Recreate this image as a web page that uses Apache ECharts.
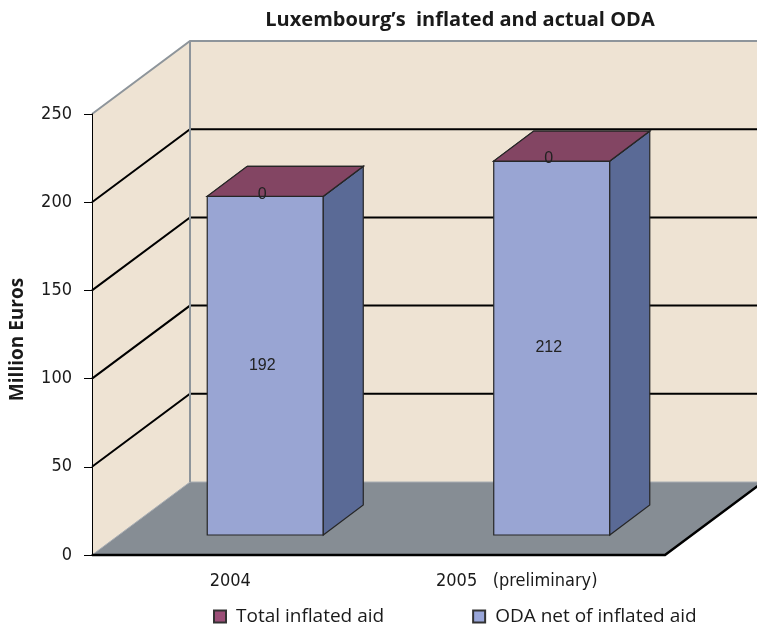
<!DOCTYPE html>
<html>
<head>
<meta charset="utf-8">
<script src="https://cdn.jsdelivr.net/npm/echarts@6/dist/echarts.min.js"></script>
<style>
html, body { margin: 0; padding: 0; background: #fff; }
#chart { width: 757px; height: 624px; }
</style>
</head>
<body>
<div id="chart"></div>
<script>
// data
var categories = ['2004', '2005   (preliminary)'];
var odaNet = [192, 212];
var inflatedAid = [0, 0];
var yMin = 0, yMax = 250, yStep = 50;

// 3d look
var DX = 98, DY = -73;        // depth of the box
var BFX = 30, BFY = -20;      // bar front face offset
var BDX = 40, BDY = -30;      // bar depth
var WALL = '#eee3d3', FLOOR = '#868d94', EDGE = '#8e959b';
var narrow = "'Liberation Sans Narrow', 'DejaVu Sans Condensed', sans-serif";

var chart = echarts.init(document.getElementById('chart'));

function renderWalls(params, api) {
    var cs = params.coordSys;
    var L = cs.x, R = cs.x + cs.width, T = cs.y, B = cs.y + cs.height;
    var W = api.getWidth() + 10;
    var kids = [];
    kids.push({ type: 'rect', shape: { x: L + DX, y: T + DY, width: W - L - DX, height: B - T }, style: { fill: WALL } });
    kids.push({ type: 'polygon', shape: { points: [[L, B], [L, T], [L + DX, T + DY], [L + DX, B + DY]] }, style: { fill: WALL } });
    kids.push({ type: 'polygon', shape: { points: [[L, B], [R, B], [R + DX, B + DY], [L + DX, B + DY]] }, style: { fill: FLOOR, stroke: '#a9aeb3', lineWidth: 1 } });
    for (var v = yMin + yStep; v < yMax; v += yStep) {
        var y = api.coord([0, v])[1];
        kids.push({ type: 'polyline', shape: { points: [[L, y], [L + DX, y + DY], [W, y + DY]] }, style: { stroke: '#000', lineWidth: 2, fill: null } });
    }
    kids.push({ type: 'polyline', shape: { points: [[L, T], [L + DX, T + DY], [W, T + DY]] }, style: { stroke: EDGE, lineWidth: 2, fill: null } });
    kids.push({ type: 'line', shape: { x1: L + DX, y1: T + DY, x2: L + DX, y2: B + DY }, style: { stroke: EDGE, lineWidth: 2 } });
    kids.push({ type: 'polyline', shape: { points: [[L, B], [R, B], [R + DX, B + DY]] }, style: { stroke: '#000', lineWidth: 2.5, fill: null } });
    return { type: 'group', children: kids };
}

function makeBarRenderer(front, side, top, labelAtTop) {
    return function (params, api) {
        var cat = api.value(0), lo = api.value(1), hi = api.value(2);
        var pLo = api.coord([cat, lo]), pHi = api.coord([cat, hi]);
        var bw = api.size([1, 0])[0] * 0.405;
        var x0 = pLo[0] - bw / 2 + BFX, x1 = x0 + bw;
        var yb = pLo[1] + BFY, yt = pHi[1] + BFY;
        var line = { stroke: '#262626', lineWidth: 1.2 };
        var kids = [];
        if (yb - yt > 0.5) {
            kids.push({ type: 'rect', shape: { x: x0, y: yt, width: bw, height: yb - yt }, style: Object.assign({ fill: front }, line) });
            kids.push({ type: 'polygon', shape: { points: [[x1, yb], [x1, yt], [x1 + BDX, yt + BDY], [x1 + BDX, yb + BDY]] }, style: Object.assign({ fill: side }, line) });
        }
        kids.push({ type: 'polygon', shape: { points: [[x0, yt], [x1, yt], [x1 + BDX, yt + BDY], [x0 + BDX, yt + BDY]] }, style: Object.assign({ fill: top }, line) });
        var ly = labelAtTop ? yt - 2 : (yt + yb) / 2;
        kids.push({ type: 'text', x: (x0 + x1) / 2 - 3, y: ly, style: { text: String(hi - lo), fill: '#222', font: '16px "Liberation Sans", Arial, sans-serif', align: 'center', verticalAlign: 'middle' } });
        return { type: 'group', children: kids };
    };
}

var odaData = categories.map(function (c, i) { return [i, 0, odaNet[i]]; });
var inflData = categories.map(function (c, i) { return [i, odaNet[i], odaNet[i] + inflatedAid[i]]; });

chart.setOption({
    animation: false,
    title: {
        text: 'Luxembourg\u2019s  inflated and actual ODA',
        left: 455, textAlign: 'center', top: 5,
        textStyle: { fontFamily: 'Open Sans', fontWeight: 'bold', fontSize: 20, color: '#1a1a1a' }
    },
    legend: {
        top: 602, left: 208, itemGap: 88, itemWidth: 12, itemHeight: 12, icon: 'rect',
        data: ['Total inflated aid', 'ODA net of inflated aid'],
        textStyle: { fontFamily: 'Open Sans', fontSize: 19, color: '#1a1a1a', padding: [0, 0, 0, 5] }
    },
    grid: { left: 92, right: 92, top: 114, bottom: 69, outerBoundsMode: 'none', containLabel: false },
    xAxis: {
        type: 'category', data: categories, z: 10,
        axisLine: { lineStyle: { color: '#000', width: 1.5 } },
        axisTick: { length: 8, lineStyle: { color: '#000' } },
        axisLabel: { margin: 17, fontFamily: narrow, fontSize: 18, color: '#1a1a1a', padding: [0, 10, 0, 0] },
        splitLine: { show: false }
    },
    yAxis: {
        type: 'value', min: yMin, max: yMax, interval: yStep, z: 10,
        name: 'Million Euros', nameLocation: 'middle', nameGap: 65, nameRotate: 90,
        nameTextStyle: { fontFamily: 'Open Sans', fontWeight: 'bold', fontSize: 19, color: '#1a1a1a', padding: [0, 10, 0, 0] },
        axisLine: { show: true, lineStyle: { color: '#000', width: 1 } },
        axisTick: { show: true, length: 8, lineStyle: { color: '#000' } },
        axisLabel: { margin: 20, fontFamily: narrow, fontSize: 18, color: '#1a1a1a' },
        splitLine: { show: false }
    },
    series: [
        { type: 'custom', name: 'walls', silent: true, z: 1, renderItem: renderWalls, data: [[0, 0]] },
        {
            type: 'custom', name: 'ODA net of inflated aid', z: 3,
            itemStyle: { color: '#99a6d9', borderColor: '#333', borderWidth: 1 },
            renderItem: makeBarRenderer('#99a5d3', '#5a6a96', '#99a5d3', false),
            encode: { x: 0, y: 2 }, data: odaData
        },
        {
            type: 'custom', name: 'Total inflated aid', z: 4,
            itemStyle: { color: '#9c4f78', borderColor: '#333', borderWidth: 1 },
            renderItem: makeBarRenderer('#834563', '#834563', '#834563', true),
            encode: { x: 0, y: 2 }, data: inflData
        }
    ]
});
</script>
</body>
</html>
